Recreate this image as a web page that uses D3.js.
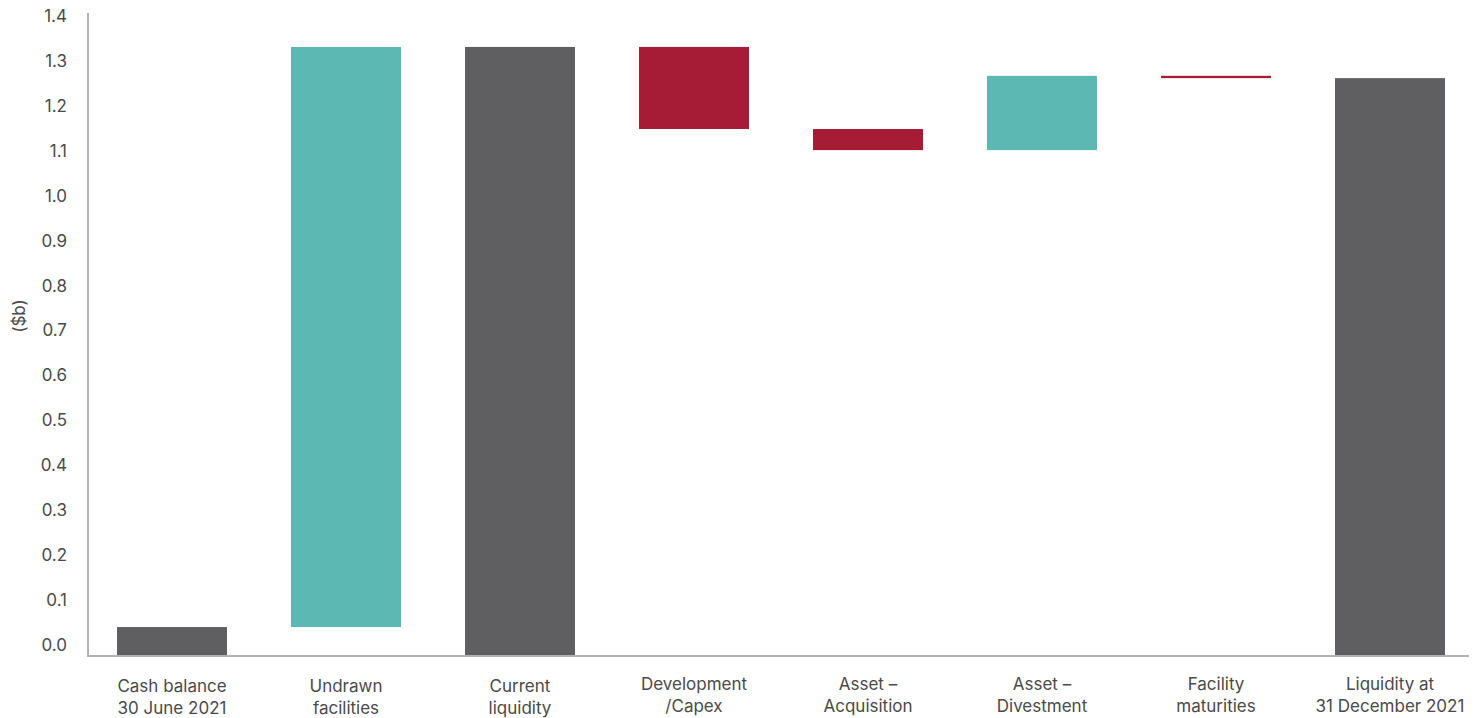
<!DOCTYPE html>
<html>
<head>
<meta charset="utf-8">
<script src="https://cdn.jsdelivr.net/npm/d3@7"></script>
<style>
  html, body { margin: 0; padding: 0; background: #fff; }
  svg { display: block; }
  text { font-family: "Inter", "Lato", sans-serif; }
</style>
</head>
<body>
<svg id="chart" width="1480" height="718"></svg>
<script>
// Liquidity bridge ($b), June 2021 to December 2021
const categories = [
  ["Cash balance", "30 June 2021"],
  ["Undrawn", "facilities"],
  ["Current", "liquidity"],
  ["Development", "/Capex"],
  ["Asset \u2013", "Acquisition"],
  ["Asset \u2013", "Divestment"],
  ["Facility", "maturities"],
  ["Liquidity at", "31 December 2021"]
];
// step kind: "total" bars start from zero, "delta" bars float on the running total
const kinds  = ["total", "delta", "total", "delta", "delta", "delta", "delta", "total"];
const values = [0.061, 1.265, 1.326, -0.179, -0.046, 0.162, -0.005, 1.258];
const yTicks = [0.0, 0.1, 0.2, 0.3, 0.4, 0.5, 0.6, 0.7, 0.8, 0.9, 1.0, 1.1, 1.2, 1.3, 1.4];

const colors = { total: "#5f5f61", up: "#5bb8b3", down: "#a61c37" };

// running totals for floating bars
let running = 0;
const bars = values.map((v, i) => {
  let y0, y1, color;
  if (kinds[i] === "total") {
    y0 = 0; y1 = v; running = v; color = colors.total;
  } else {
    y0 = running; y1 = running + v; running = y1;
    color = v >= 0 ? colors.up : colors.down;
  }
  return { i, lo: Math.min(y0, y1), hi: Math.max(y0, y1), color };
});

const svg = d3.select("#chart");

const x = d3.scaleBand()
  .domain(d3.range(categories.length))
  .range([85, 1477])
  .paddingInner(0.368)
  .paddingOuter(0.184);

const y = d3.scaleLinear().domain([0, 1.4]).range([655, 13]);
// tick labels sit on their own slightly tighter spacing
const yLab = d3.scaleLinear().domain([0, 1.4]).range([645, 16]);

// bars
svg.append("g").selectAll("rect")
  .data(bars)
  .join("rect")
  .attr("x", d => x(d.i))
  .attr("width", x.bandwidth())
  .attr("y", d => y(d.hi))
  .attr("height", d => Math.max(2, y(d.lo) - y(d.hi)))
  .attr("fill", d => d.color);

// y axis labels
const yAxis = d3.axisLeft(yLab)
  .tickValues(yTicks)
  .tickFormat(d3.format(".1f"))
  .tickSize(0)
  .tickPadding(0);
const gy = svg.append("g").attr("transform", "translate(67,0)").call(yAxis);
gy.select(".domain").remove();
gy.selectAll("text")
  .attr("fill", "#4a4a4a")
  .style("font-size", "17px")
  .style("font-family", "Inter, Lato, sans-serif");

// axis lines
svg.append("line")
  .attr("x1", 88).attr("x2", 88)
  .attr("y1", 13).attr("y2", 656)
  .attr("stroke", "#b2b2b6").attr("stroke-width", 2);
svg.append("line")
  .attr("x1", 87).attr("x2", 1469)
  .attr("y1", 656).attr("y2", 656)
  .attr("stroke", "#b2b2b6").attr("stroke-width", 2);

// y axis title
svg.append("text")
  .attr("transform", "translate(25,316) rotate(-90)")
  .attr("text-anchor", "middle")
  .attr("fill", "#4a4a4a")
  .style("font-size", "17px")
  .text("($b)");

// category labels
const xl = svg.append("g").selectAll("text")
  .data(categories)
  .join("text")
  .attr("text-anchor", "middle")
  .attr("fill", "#4a4a4a")
  .style("font-size", "17px")
  .attr("x", (d, i) => x(i) + x.bandwidth() / 2);
xl.append("tspan")
  .attr("x", (d, i) => x(i) + x.bandwidth() / 2)
  .attr("y", (d, i) => i >= 3 ? 690 : 692)
  .text(d => d[0]);
xl.append("tspan")
  .attr("x", (d, i) => x(i) + x.bandwidth() / 2)
  .attr("y", (d, i) => i >= 3 ? 712 : 714)
  .text(d => d[1]);
</script>
</body>
</html>
